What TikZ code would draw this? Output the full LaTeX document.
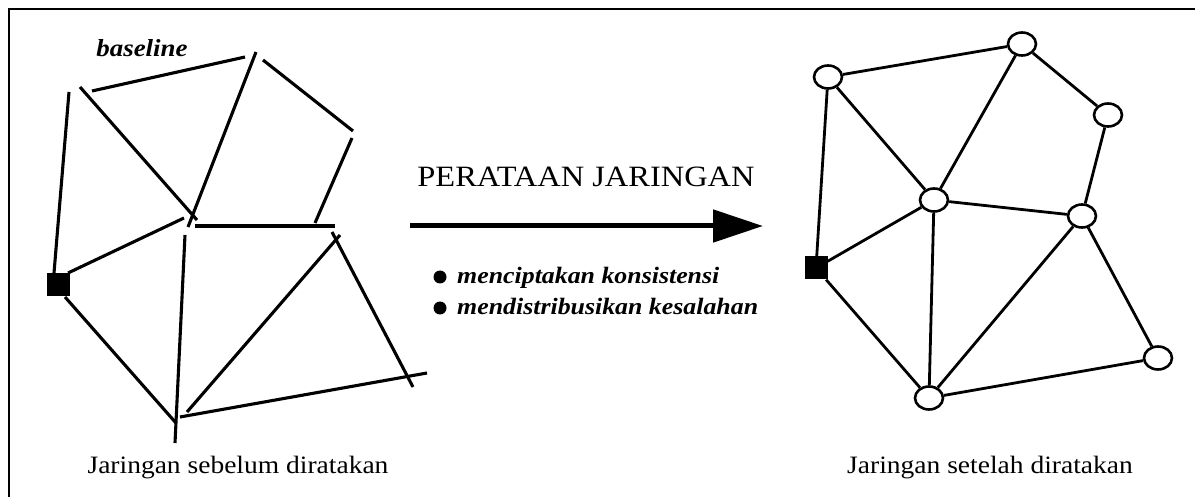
\documentclass[tikz,border=0pt]{standalone}
\usepackage{fontspec}
\setmainfont{Liberation Serif}
\usetikzlibrary{shapes.geometric,arrows.meta}
\newcommand\xs[1]{\scalebox{1.1}[1]{#1}}
\tikzset{
  net/.style={line width=3.1pt},
  sta/.style={draw, ellipse, line width=2.6pt, fill=white, minimum width=28pt, minimum height=23pt, inner sep=0pt},
  fix/.style={fill=black, minimum size=23pt, inner sep=0pt},
  lbl/.style={font=\fontsize{25}{29}\selectfont, anchor=base, inner sep=0pt},
  itl/.style={font=\fontsize{23.5}{27}\selectfont\bfseries\itshape, anchor=base west, inner sep=0pt},
  dot/.style={circle, fill=black, minimum size=13pt, inner sep=0pt}
}
\begin{document}
\begin{tikzpicture}[x=1pt,y=-1pt]
\useasboundingbox (0,0) rectangle (1195,497);
% frame
\coordinate (fb) at (9,497);
\coordinate (fc) at (9,9);
\coordinate (fr) at (1195,9);
\draw[line width=2.8pt] (fb) -- (fc) -- (fr);

% ---------- left network (before adjustment)
\node[fix] (sqL) at (58,285) {};
\foreach \n/\x/\y in {a1/54/273, a2/69/92, b1/80/87, b2/197/220, c1/92/91, c2/245/57,
  d1/256/52, d2/188/227, e1/263/60, e2/353/131, f1/352/138, f2/315/223,
  g1/195/226, g2/335/226, h1/68/273, h2/184/218, i1/185/235, i2/175/443,
  j1/65/297, j2/176/423, k1/187/412, k2/340/235, m1/332/232, m2/413/387,
  n1/180/417, n2/427/373}
  \coordinate (\n) at (\x,\y);
\foreach \p/\q in {a1/a2, b1/b2, c1/c2, d1/d2, e1/e2, f1/f2, g1/g2, h1/h2, i1/i2, j1/j2, k1/k2, m1/m2, n1/n2}
  \draw[net] (\p) -- (\q);
\node[lbl, font=\fontsize{24.5}{28}\selectfont\bfseries\itshape] (bl) at (142,57) {\xs{baseline}};
\node[lbl] (capL) at (238,473) {\xs{Jaringan sebelum diratakan}};

% ---------- middle
\node[lbl, font=\fontsize{29.5}{34}\selectfont] (title) at (586,187) {\xs{PERATAAN JARINGAN}};
\coordinate (arS) at (410,226);
\coordinate (arE) at (763,226);
\draw[line width=5pt, -{Triangle[length=50pt,width=32pt]}] (arS) -- (arE);
\node[dot] (d1) at (440,277) {};
\node[dot] (d2) at (440,308) {};
\node[itl] (t1) at (457,284) {\xs{menciptakan konsistensi}};
\node[itl] (t2) at (457,315) {\xs{mendistribusikan kesalahan}};

% ---------- right network (after adjustment)
\node[fix] (sqR) at (816,268) {};
\node[sta] (A) at (828,77) {};
\node[sta] (B) at (1022,44) {};
\node[sta] (C) at (1108,115) {};
\node[sta] (D) at (934,200) {};
\node[sta] (E) at (1082,216) {};
\node[sta] (F) at (1158,358) {};
\node[sta] (G) at (929,398) {};
\foreach \p/\q in {A/B, A/D, A/sqR, B/D, B/C, C/E, D/E, D/sqR, D/G, sqR/G, E/G, E/F, G/F}
  \draw[net, line width=2.8pt] (\p) -- (\q);
\node[lbl] (capR) at (990,473) {\xs{Jaringan setelah diratakan}};
\end{tikzpicture}
\end{document}
